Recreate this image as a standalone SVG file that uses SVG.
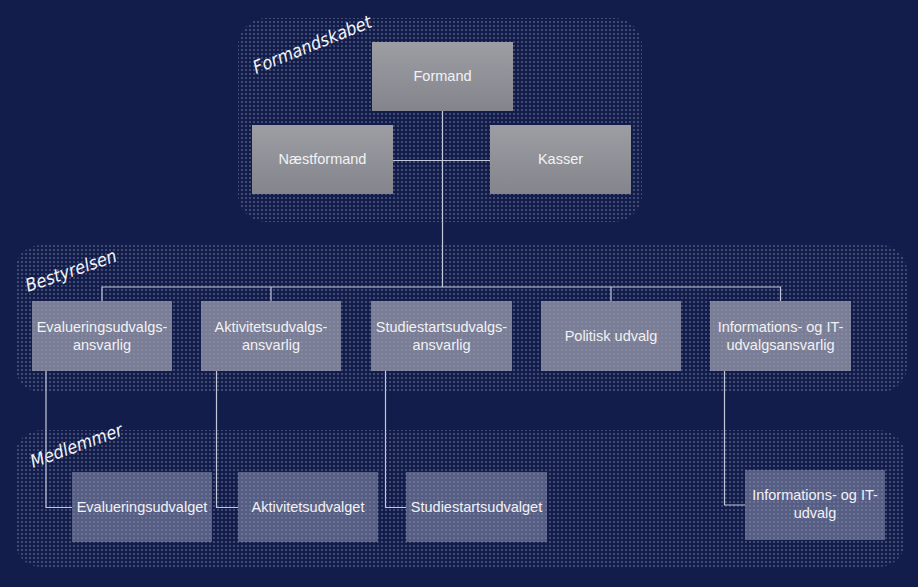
<svg xmlns="http://www.w3.org/2000/svg" width="918" height="587" viewBox="0 0 918 587">
<defs>
<pattern id="dots" width="4" height="4" patternUnits="userSpaceOnUse">
<rect x="1.5" y="1.5" width="1" height="1" fill="#c9cde2"/>
</pattern>
<linearGradient id="g1" x1="0" y1="0" x2="0" y2="1">
<stop offset="0" stop-color="#9d9ea4"/>
<stop offset="1" stop-color="#84858c"/>
</linearGradient>
<style>
.grp{fill:url(#dots)}
.n1{fill:url(#g1)}
.n2{fill:#9c9eae;fill-opacity:0.75}
.n3{fill:#9094b4;fill-opacity:0.55}
.t{font-family:"Liberation Sans",Arial,sans-serif;font-size:14.5px;fill:#f2f2f4;text-anchor:middle}
.lbl{font-family:"DejaVu Sans Condensed","DejaVu Sans",sans-serif;font-style:italic;font-size:18px;fill:#f4f4f8}
.c{fill:none;stroke:#c3c7da;stroke-width:1.2}
</style>
</defs>
<rect width="918" height="587" fill="#131d4b"/>
<g id="groups">
<rect class="grp" x="238" y="18" width="404" height="204" rx="28"/>
<rect class="grp" x="15" y="245" width="892" height="147" rx="26"/>
<rect class="grp" x="15" y="430" width="890" height="137" rx="26"/>
</g>
<g id="group-labels">
<text class="lbl" transform="translate(256,74) rotate(-22)">Formandskabet</text>
<text class="lbl" transform="translate(28,292) rotate(-19)">Bestyrelsen</text>
<text class="lbl" transform="translate(33,468) rotate(-20)">Medlemmer</text>
</g>
<g id="connectors">
<path class="c" d="M442.5 111 V287"/>
<path class="c" d="M393 160.5 H490"/>
<path class="c" d="M102 301 V287 H780.5 V301"/>
<path class="c" d="M271 287 V301"/>
<path class="c" d="M611 287 V301"/>
<path class="c" d="M46 371 V507.5 H72"/>
<path class="c" d="M216.5 371 V507.5 H238"/>
<path class="c" d="M385.5 371 V507.5 H406"/>
<path class="c" d="M724.5 371 V505 H745"/>
</g>
<g id="formand"><rect class="n1" x="372" y="42" width="141" height="69"/><text class="t" x="442.5" y="81">Formand</text></g>
<g id="naestformand"><rect class="n1" x="252" y="125" width="141" height="69"/><text class="t" x="322.5" y="164">Næstformand</text></g>
<g id="kasser"><rect class="n1" x="490" y="125" width="141" height="69"/><text class="t" x="560.5" y="164">Kasser</text></g>
<g id="evalueringsansvarlig"><rect class="n2" x="32" y="301" width="140" height="70"/><text class="t" x="102" y="332">Evalueringsudvalgs-</text><text class="t" x="102" y="350">ansvarlig</text></g>
<g id="aktivitetsansvarlig"><rect class="n2" x="201" y="301" width="140" height="70"/><text class="t" x="271" y="332">Aktivitetsudvalgs-</text><text class="t" x="271" y="350">ansvarlig</text></g>
<g id="studiestartsansvarlig"><rect class="n2" x="371" y="301" width="141" height="70"/><text class="t" x="441.5" y="332">Studiestartsudvalgs-</text><text class="t" x="441.5" y="350">ansvarlig</text></g>
<g id="politisk"><rect class="n2" x="541" y="301" width="140" height="70"/><text class="t" x="611" y="341">Politisk udvalg</text></g>
<g id="infoansvarlig"><rect class="n2" x="710" y="301" width="141" height="70"/><text class="t" x="780.5" y="332">Informations-  og IT-</text><text class="t" x="780.5" y="350">udvalgsansvarlig</text></g>
<g id="evalueringsudvalget"><rect class="n3" x="72" y="472" width="140" height="70"/><text class="t" x="142" y="512">Evalueringsudvalget</text></g>
<g id="aktivitetsudvalget"><rect class="n3" x="238" y="472" width="140" height="70"/><text class="t" x="308" y="512">Aktivitetsudvalget</text></g>
<g id="studiestartsudvalget"><rect class="n3" x="406" y="472" width="141" height="70"/><text class="t" x="476.5" y="512">Studiestartsudvalget</text></g>
<g id="infoudvalg"><rect class="n3" x="745" y="470" width="140" height="70"/><text class="t" x="815" y="500">Informations-  og IT-</text><text class="t" x="815" y="518">udvalg</text></g>
</svg>
